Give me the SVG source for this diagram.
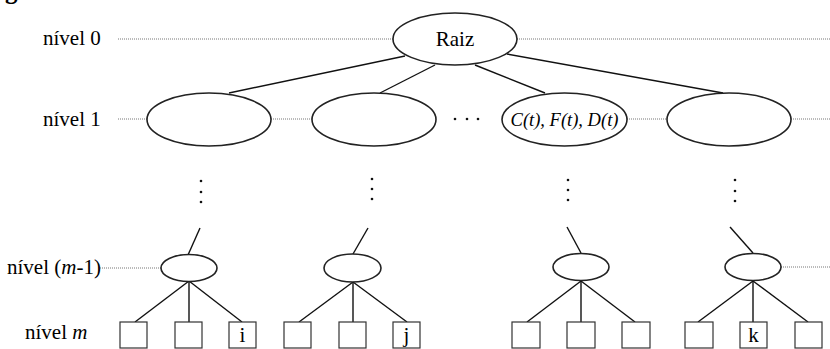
<svg xmlns="http://www.w3.org/2000/svg" width="830" height="349" viewBox="0 0 830 349">
<style>
text{font-family:'Liberation Serif','Times New Roman','DejaVu Serif',serif;font-size:21px;fill:#000}
.it{font-style:italic}
.n{fill:#fff;stroke:#222;stroke-width:1.6}
.b{fill:#fff;stroke:#333;stroke-width:1.2}
.e{stroke:#111;stroke-width:1.4;fill:none}
.d{stroke:#777;stroke-width:1;stroke-dasharray:1 1;fill:none}
.dot{fill:#111}
</style>
<rect width="830" height="349" fill="#fff"/>
<text x="5" y="-1" style="font-size:25px;font-weight:bold">g</text>
<g id="level-labels">
<text x="43" y="45">nível 0</text>
<text x="43" y="126">nível 1</text>
<text x="7" y="274">nível (<tspan class="it">m</tspan>-1)</text>
<text x="25" y="339">nível <tspan class="it">m</tspan></text>
</g>
<g id="level-lines">
<line class="d" x1="118" y1="39" x2="393" y2="39"/>
<line class="d" x1="517" y1="39" x2="830" y2="39"/>
<line class="d" x1="118" y1="119" x2="147" y2="119"/>
<line class="d" x1="271" y1="119" x2="312" y2="119"/>
<line class="d" x1="627" y1="119" x2="667" y2="119"/>
<line class="d" x1="791" y1="119" x2="830" y2="119"/>
<line class="d" x1="100" y1="268" x2="161" y2="268"/>
<line class="d" x1="781" y1="267" x2="830" y2="267"/>
</g>
<g id="connectors">
<line class="e" x1="405" y1="56" x2="229" y2="93"/>
<line class="e" x1="435" y1="65" x2="380" y2="93"/>
<line class="e" x1="475" y1="65" x2="545" y2="93"/>
<line class="e" x1="507" y1="54" x2="723" y2="93"/>
<line class="e" x1="200" y1="228" x2="188" y2="255"/>
<line class="e" x1="368" y1="228" x2="353" y2="254"/>
<line class="e" x1="567" y1="227" x2="581" y2="253"/>
<line class="e" x1="730" y1="227" x2="753" y2="253"/>
<line class="e" x1="189" y1="281" x2="135" y2="322"/>
<line class="e" x1="189" y1="281" x2="189" y2="322"/>
<line class="e" x1="189" y1="281" x2="242" y2="322"/>
<line class="e" x1="353" y1="282" x2="299" y2="322"/>
<line class="e" x1="353" y1="282" x2="353" y2="322"/>
<line class="e" x1="353" y1="282" x2="407" y2="322"/>
<line class="e" x1="581" y1="281" x2="527" y2="322"/>
<line class="e" x1="581" y1="281" x2="581" y2="322"/>
<line class="e" x1="581" y1="281" x2="635" y2="322"/>
<line class="e" x1="753" y1="281" x2="698" y2="322"/>
<line class="e" x1="753" y1="281" x2="753" y2="322"/>
<line class="e" x1="753" y1="281" x2="808" y2="322"/>
</g>
<g id="ellipsis-dots">
<circle class="dot" cx="455" cy="119" r="1.3"/>
<circle class="dot" cx="467" cy="119" r="1.3"/>
<circle class="dot" cx="478" cy="119" r="1.3"/>
<circle class="dot" cx="201" cy="181" r="1.3"/>
<circle class="dot" cx="201" cy="192" r="1.3"/>
<circle class="dot" cx="201" cy="202" r="1.3"/>
<circle class="dot" cx="372" cy="179" r="1.3"/>
<circle class="dot" cx="372" cy="189" r="1.3"/>
<circle class="dot" cx="372" cy="199" r="1.3"/>
<circle class="dot" cx="568" cy="180" r="1.3"/>
<circle class="dot" cx="568" cy="190" r="1.3"/>
<circle class="dot" cx="568" cy="200" r="1.3"/>
<circle class="dot" cx="735" cy="180" r="1.3"/>
<circle class="dot" cx="735" cy="191" r="1.3"/>
<circle class="dot" cx="735" cy="201" r="1.3"/>
</g>
<g id="root"><ellipse class="n" cx="455" cy="39" rx="62" ry="26"/><text x="455" y="46" text-anchor="middle">Raiz</text></g>
<g id="n1a"><ellipse class="n" cx="209" cy="119.5" rx="62" ry="26.5"/></g>
<g id="n1b"><ellipse class="n" cx="374" cy="119.5" rx="62" ry="26.5"/></g>
<g id="n1c"><ellipse class="n" cx="564.5" cy="119.5" rx="62.5" ry="26.5"/><text class="it" x="564.5" y="126" text-anchor="middle" style="font-size:18.5px">C(t), F(t), D(t)</text></g>
<g id="n1d"><ellipse class="n" cx="729" cy="119.5" rx="62" ry="26.5"/></g>
<g id="m1a"><ellipse class="n" cx="189" cy="268" rx="28" ry="13.5"/></g>
<g id="m1b"><ellipse class="n" cx="352.5" cy="268" rx="28.5" ry="14"/></g>
<g id="m1c"><ellipse class="n" cx="581" cy="267" rx="28" ry="13.5"/></g>
<g id="m1d"><ellipse class="n" cx="753" cy="267" rx="28" ry="13.5"/></g>
<g id="leaf1"><rect class="b" x="120" y="322" width="27" height="26"/></g>
<g id="leaf2"><rect class="b" x="175" y="322" width="27" height="26"/></g>
<g id="leaf3"><rect class="b" x="229" y="322" width="27" height="26"/><text x="242.5" y="342" text-anchor="middle">i</text></g>
<g id="leaf4"><rect class="b" x="284" y="322" width="27" height="26"/></g>
<g id="leaf5"><rect class="b" x="339" y="322" width="27" height="26"/></g>
<g id="leaf6"><rect class="b" x="393" y="322" width="27" height="26"/><text x="406.5" y="342" text-anchor="middle">j</text></g>
<g id="leaf7"><rect class="b" x="512" y="322" width="28" height="26"/></g>
<g id="leaf8"><rect class="b" x="567" y="322" width="28" height="26"/></g>
<g id="leaf9"><rect class="b" x="622" y="322" width="28" height="26"/></g>
<g id="leaf10"><rect class="b" x="685" y="322" width="28" height="26"/></g>
<g id="leaf11"><rect class="b" x="740" y="322" width="27" height="26"/><text x="753.5" y="342" text-anchor="middle">k</text></g>
<g id="leaf12"><rect class="b" x="795" y="322" width="27" height="26"/></g>
</svg>
